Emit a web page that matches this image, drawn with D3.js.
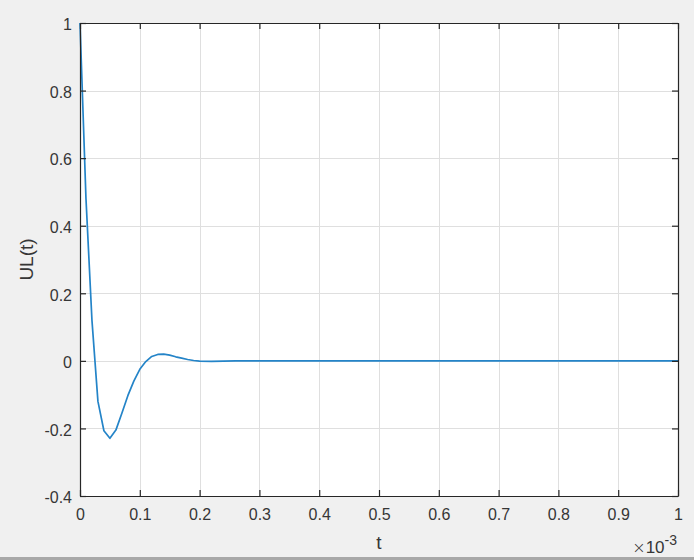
<!DOCTYPE html>
<html><head><meta charset="utf-8">
<script src="https://cdn.jsdelivr.net/npm/d3@7"></script>
<style>html,body{margin:0;padding:0;background:#f0f0f0;}svg{display:block;}</style>
</head><body>
<svg id="chart" width="694" height="560"></svg>
<script>
// time in units of 1e-3 s
const timeValues = [0, 0.01, 0.02, 0.03, 0.04, 0.05, 0.06, 0.07, 0.08, 0.09, 0.10, 0.11, 0.12, 0.13, 0.14, 0.15, 0.16, 0.17, 0.18, 0.19, 0.20, 0.22, 0.24, 0.26, 0.30, 0.40, 0.50, 0.60, 0.70, 0.80, 0.90, 1.00];
const ulValues   = [1.0, 0.48, 0.12, -0.12, -0.207, -0.229, -0.205, -0.155, -0.103, -0.060, -0.025, -0.002, 0.013, 0.019, 0.020, 0.017, 0.012, 0.008, 0.004, 0.001, -0.001, -0.0015, -0.001, 0, 0, 0, 0, 0, 0, 0, 0, 0];
const xTicks = [0, 0.1, 0.2, 0.3, 0.4, 0.5, 0.6, 0.7, 0.8, 0.9, 1];
const yTicks = [-0.4, -0.2, 0, 0.2, 0.4, 0.6, 0.8, 1];
const xLabel = "t";
const yLabel = "UL(t)";

const svg = d3.select("#chart");
const L = 80, T = 23, R = 678, B = 496;
const x = d3.scaleLinear().domain([0, 1]).range([L, R]);
const y = d3.scaleLinear().domain([-0.4, 1]).range([B, T]);
const axisColor = "#262626";
const textColor = "#363636";
const font = "'Liberation Sans', Arial, Helvetica, sans-serif";

svg.append("rect").attr("x", 0).attr("y", 0).attr("width", 694).attr("height", 560).attr("fill", "#f0f0f0");
svg.append("rect").attr("x", L).attr("y", T).attr("width", R - L).attr("height", B - T).attr("fill", "#ffffff");

// grid
const grid = svg.append("g").attr("stroke", "#dfdfdf").attr("stroke-width", 1).attr("shape-rendering", "crispEdges");
xTicks.forEach(v => grid.append("line").attr("x1", Math.round(x(v)) + 0.5).attr("x2", Math.round(x(v)) + 0.5).attr("y1", T).attr("y2", B));
yTicks.forEach(v => grid.append("line").attr("y1", Math.round(y(v)) + 0.5).attr("y2", Math.round(y(v)) + 0.5).attr("x1", L).attr("x2", R));

// line
const line = d3.line().x((d, i) => x(timeValues[i])).y(d => y(d));
svg.append("path").datum(ulValues).attr("d", line).attr("fill", "none")
  .attr("stroke", "#2484c8").attr("stroke-width", 1.7).attr("stroke-linejoin", "round");

// axes with inner ticks (box on)
const axB = d3.axisBottom(x).tickValues(xTicks).tickSizeInner(-6).tickSizeOuter(0).tickPadding(13).tickFormat(d => d3.format("~g")(d));
const axT = d3.axisTop(x).tickValues(xTicks).tickSizeInner(-6).tickSizeOuter(0).tickFormat("");
const axLft = d3.axisLeft(y).tickValues(yTicks).tickSizeInner(-6).tickSizeOuter(0).tickPadding(8).tickFormat(d => d3.format("~g")(d).replace("−", "-"));
const axR = d3.axisRight(y).tickValues(yTicks).tickSizeInner(-6).tickSizeOuter(0).tickFormat("");

function style(g) {
  g.select(".domain").attr("stroke", axisColor).attr("stroke-width", 1.2);
  g.selectAll(".tick line").attr("stroke", axisColor).attr("stroke-width", 1.2);
  g.selectAll(".tick text").attr("fill", textColor).attr("font-family", font).attr("font-size", 16);
}
svg.append("g").attr("transform", `translate(0,${B})`).call(axB).call(style);
svg.append("g").attr("transform", `translate(0,${T})`).call(axT).call(style);
svg.append("g").attr("transform", `translate(${L},0)`).call(axLft).call(style)
  .selectAll(".tick text").attr("dy", "0.42em");
svg.append("g").attr("transform", `translate(${R},0)`).call(axR).call(style);

// axis labels
svg.append("text").attr("x", (L + R) / 2).attr("y", 549).attr("text-anchor", "middle")
  .attr("font-family", font).attr("font-size", 19).attr("fill", textColor).text(xLabel);
svg.append("text").attr("transform", `translate(33,${(T + B) / 2}) rotate(-90)`).attr("text-anchor", "middle")
  .attr("font-family", font).attr("font-size", 19).attr("fill", textColor).text(yLabel);

// exponent
const ex = svg.append("text").attr("x", 677).attr("y", 553).attr("text-anchor", "end")
  .attr("font-family", font).attr("font-size", 17).attr("fill", textColor);
ex.append("tspan").attr("font-family", "'DejaVu Sans', sans-serif").attr("font-weight", 200).attr("font-size", 16).text("\u00d7");
ex.append("tspan").text("10");
ex.append("tspan").attr("dy", -8).attr("font-size", 14).text("-3");

// bottom window edge
svg.append("rect").attr("x", 0).attr("y", 557).attr("width", 694).attr("height", 3).attr("fill", "#a8a8a8");
</script>
</body></html>
